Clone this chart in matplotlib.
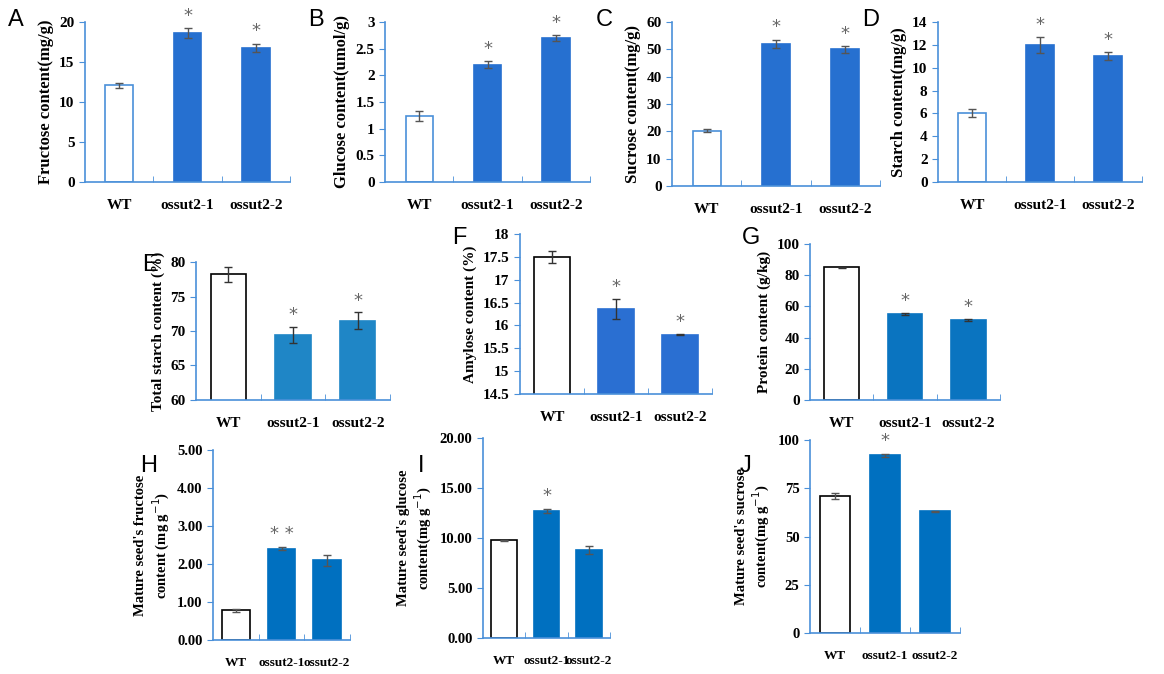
import matplotlib
matplotlib.use("Agg")
import matplotlib.pyplot as plt
import numpy as np

plt.rcParams["font.family"] = ["Liberation Serif", "DejaVu Serif"]

GROUPS = ["WT", "ossut2-1", "ossut2-2"]

A_vals, A_err = [12.1, 18.6, 16.8], [0.3, 0.6, 0.5]
B_vals, B_err = [1.24, 2.2, 2.7], [0.1, 0.07, 0.05]
C_vals, C_err = [20.2, 52.0, 50.0], [0.6, 1.5, 1.2]
D_vals, D_err = [6.0, 12.0, 11.0], [0.35, 0.7, 0.35]
E_vals, E_err = [78.2, 69.4, 71.5], [1.1, 1.2, 1.2]
F_vals, F_err = [17.5, 16.35, 15.8], [0.13, 0.22, 0.01]
G_vals, G_err = [85.0, 55.0, 51.5], [0.5, 0.7, 0.6]
H_vals, H_err = [0.78, 2.4, 2.1], [0.03, 0.04, 0.15]
I_vals, I_err = [9.8, 12.7, 8.8], [0.05, 0.2, 0.4]
J_vals, J_err = [71.0, 92.0, 63.0], [1.5, 0.8, 0.4]

W, H = 1164, 674
SPINE = "#4a90d9"

# letter, pixel box (x0, y0, x1, y1), vals, errs, ylim, ticks, fmt, ylabel, colour, stars, bar width, label size
panels = [
    ("A", (85, 22, 290, 182), A_vals, A_err, (0, 20), [0, 5, 10, 15, 20], "{:g}",
     "Fructose content(mg/g)", "#2670d0", ["", "*", "*"], 0.4, 12),
    ("B", (385, 22, 590, 182), B_vals, B_err, (0, 3), [0, 0.5, 1, 1.5, 2, 2.5, 3], "{:g}",
     "Glucose content(umol/g)", "#2670d0", ["", "*", "*"], 0.4, 12),
    ("C", (672, 22, 880, 186), C_vals, C_err, (0, 60), [0, 10, 20, 30, 40, 50, 60], "{:g}",
     "Sucrose content(mg/g)", "#2670d0", ["", "*", "*"], 0.4, 12),
    ("D", (938, 22, 1142, 182), D_vals, D_err, (0, 14), [0, 2, 4, 6, 8, 10, 12, 14], "{:g}",
     "Starch content(mg/g)", "#2670d0", ["", "*", "*"], 0.4, 12),
    ("E", (196, 262, 390, 400), E_vals, E_err, (60, 80), [60, 65, 70, 75, 80], "{:g}",
     "Total starch content (%)", "#1f86c6", ["", "*", "*"], 0.55, 11),
    ("F", (520, 234, 712, 394), F_vals, F_err, (14.5, 18), [14.5, 15, 15.5, 16, 16.5, 17, 17.5, 18], "{:g}",
     "Amylose content (%)", "#2a6fd2", ["", "*", "*"], 0.55, 11),
    ("G", (810, 244, 1000, 400), G_vals, G_err, (0, 100), [0, 20, 40, 60, 80, 100], "{:g}",
     "Protein content (g/kg)", "#0a74c0", ["", "*", "*"], 0.55, 11),
    ("H", (213, 450, 350, 640), H_vals, H_err, (0, 5), [0, 1, 2, 3, 4, 5], "{:.2f}",
     "Mature seed's fructose\ncontent (mg g$^{-1}$)", "#0070c0", ["", "* *", ""], 0.6, 10.5),
    ("I", (483, 438, 610, 638), I_vals, I_err, (0, 20), [0, 5, 10, 15, 20], "{:.2f}",
     "Mature seed's glucose\ncontent(mg g$^{-1}$)", "#0070c0", ["", "*", ""], 0.6, 10.5),
    ("J", (810, 440, 960, 633), J_vals, J_err, (0, 100), [0, 25, 50, 75, 100], "{:g}",
     "Mature seed's sucrose\ncontent(mg g$^{-1}$)", "#0070c0", ["", "*", ""], 0.6, 10.5),
]

letter_pos = {"A": (8, 20), "B": (308, 20), "C": (596, 20), "D": (862, 20), "E": (142, 265),
              "F": (452, 238), "G": (742, 238), "H": (140, 466), "I": (418, 466), "J": (740, 466)}

fig = plt.figure(figsize=(W / 100, H / 100), dpi=100)

for letter, (x0, y0, x1, y1), vals, errs, ylim, ticks, fmt, ylabel, col, stars, bw, lsize in panels:
    ax = fig.add_axes([x0 / W, 1 - y1 / H, (x1 - x0) / W, (y1 - y0) / H])
    x = np.arange(len(GROUPS))
    colors = ["white", col, col]
    edges = [SPINE if letter in "ABCD" else "black", col, col]
    ax.bar(x, vals, width=bw, color=colors, edgecolor=edges, linewidth=1.2, zorder=2)
    ecol = "#555555" if letter in "ABCDHIJ" else "#333333"
    ax.errorbar(x, vals, yerr=errs, fmt="none", ecolor=ecol, elinewidth=1, capsize=3, zorder=3)
    span = ylim[1] - ylim[0]
    for xi, v, e, s in zip(x, vals, errs, stars):
        if s:
            ax.text(xi, v + e + span * 0.02, s, ha="center", va="bottom", fontsize=13,
                    color="#666666", family=["DejaVu Sans"])
    ax.set_xlim(-0.5, 2.5)
    ax.set_ylim(*ylim)
    ax.set_yticks(ticks)
    small = letter in "HIJ"
    ax.set_yticklabels([fmt.format(t) for t in ticks], fontsize=10.5 if small else 11, fontweight="bold")
    ax.set_xticks(x)
    ax.set_xticklabels(GROUPS, fontsize=9.5 if small else 11, fontweight="bold")
    ax.tick_params(axis="x", length=0, pad=12)
    ax.set_xticks([0.5, 1.5, 2.5], minor=True)
    ax.tick_params(axis="x", which="minor", length=4, color=SPINE, direction="in")
    ax.tick_params(axis="y", length=4, color=SPINE, direction="out")
    ax.set_ylabel(ylabel, fontsize=lsize, fontweight="bold")
    for sp in ("top", "right"):
        ax.spines[sp].set_visible(False)
    for sp in ("left", "bottom"):
        ax.spines[sp].set_color(SPINE)
        ax.spines[sp].set_linewidth(1.2)
    lx, ly = letter_pos[letter]
    fig.text(lx / W, 1 - ly / H, letter, fontsize=17, family=["Liberation Sans"], va="center")

fig.savefig("out.png", dpi=100, facecolor="white")
